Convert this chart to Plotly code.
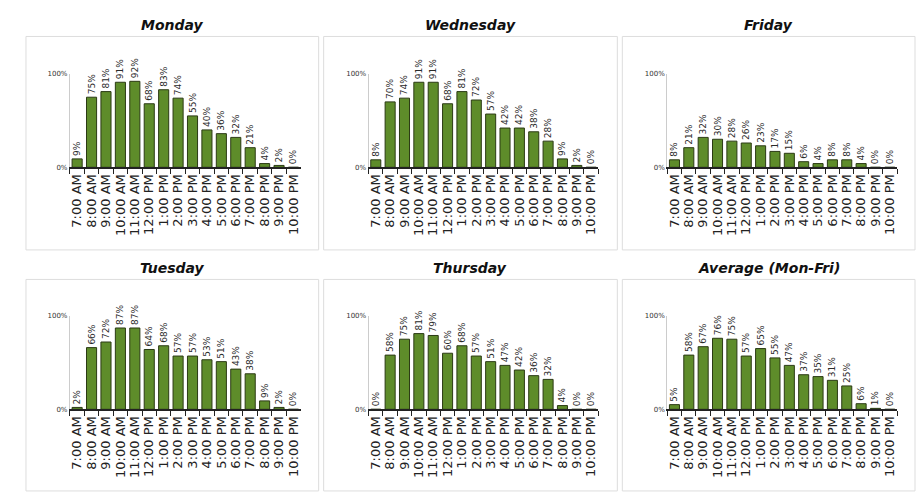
import plotly.graph_objects as go

hours = ["7:00 AM", "8:00 AM", "9:00 AM", "10:00 AM", "11:00 AM", "12:00 PM", "1:00 PM",
         "2:00 PM", "3:00 PM", "4:00 PM", "5:00 PM", "6:00 PM", "7:00 PM", "8:00 PM",
         "9:00 PM", "10:00 PM"]

monday = [9, 75, 81, 91, 92, 68, 83, 74, 55, 40, 36, 32, 21, 4, 2, 0]
wednesday = [8, 70, 74, 91, 91, 68, 81, 72, 57, 42, 42, 38, 28, 9, 2, 0]
friday = [8, 21, 32, 30, 28, 26, 23, 17, 15, 6, 4, 8, 8, 4, 0, 0]
tuesday = [2, 66, 72, 87, 87, 64, 68, 57, 57, 53, 51, 43, 38, 9, 2, 0]
thursday = [0, 58, 75, 81, 79, 60, 68, 57, 51, 47, 42, 36, 32, 4, 0, 0]
average = [5, 58, 67, 76, 75, 57, 65, 55, 47, 37, 35, 31, 25, 6, 1, 0]

panel_titles = ["Monday", "Wednesday", "Friday", "Tuesday", "Thursday", "Average (Mon-Fri)"]
panel_data = [monday, wednesday, friday, tuesday, thursday, average]

W, H = 920, 492
col_px = [(69, 300), (368, 598), (667, 897)]
row_px = [(71, 166), (317, 412)]
box_x = [(25, 318), (323, 617), (622, 915)]
box_y = [(33, 250), (280, 495)]
title_y = [21, 268]

fig = go.Figure()
for i, (name, vals) in enumerate(zip(panel_titles, panel_data)):
    r, c = divmod(i, 3)
    n = i + 1
    xa = "x" if n == 1 else f"x{n}"
    ya = "y" if n == 1 else f"y{n}"
    fig.add_trace(go.Bar(
        x=hours, y=[v / 100 for v in vals],
        text=[f"{v}%" for v in vals],
        textposition="outside", textangle=-90, constraintext="none",
        cliponaxis=False,
        textfont=dict(family="DejaVu Sans", size=9, color="#2a2a2a"),
        marker=dict(color="#5e8c2a", line=dict(color="#2b3a14", width=1)),
        xaxis=xa, yaxis=ya, showlegend=False, hoverinfo="skip",
    ))
    x0, x1 = col_px[c]
    y0, y1 = row_px[r]
    xdom = [x0 / W, x1 / W]
    ydom = [1 - y1 / H, 1 - y0 / H]
    fig.layout[f"xaxis{'' if n == 1 else n}"] = dict(
        domain=xdom, anchor=ya, type="category", range=[-0.5, 15.5],
        tickmode="array", tickvals=hours, ticktext=hours,
        showline=True, linecolor="#222222", linewidth=1.5,
        ticks="outside", tickson="boundaries", ticklen=5, tickcolor="#222222",
        tickangle=-90, tickfont=dict(family="DejaVu Sans", size=13, color="#222222"),
        showgrid=False, fixedrange=True,
    )
    fig.layout[f"yaxis{'' if n == 1 else n}"] = dict(
        domain=ydom, anchor=xa, range=[0, 1], tickvals=[0, 1], ticktext=["0%", "100%"],
        tickfont=dict(family="DejaVu Sans", size=7, color="#333333"),
        showgrid=True, gridcolor="#cccccc", gridwidth=1,
        showline=True, linecolor="#cccccc", zeroline=False, ticks="", fixedrange=True,
    )
    bx0, bx1 = box_x[c]
    by0, by1 = box_y[r]
    fig.add_shape(type="rect", xref="paper", yref="paper",
                  x0=bx0 / W, x1=bx1 / W, y0=1 - by1 / H, y1=1 - by0 / H,
                  line=dict(color="#dddddd", width=1), layer="below")
    fig.add_annotation(text=f"<b><i>{name}</i></b>", xref="paper", yref="paper",
                       x=(bx0 + bx1) / 2 / W, y=1 - title_y[r] / H,
                       xanchor="center", yanchor="middle", showarrow=False,
                       font=dict(family="DejaVu Sans", size=14, color="#111111"))

fig.update_layout(
    width=W, height=H, margin=dict(l=0, r=0, t=0, b=0),
    paper_bgcolor="white", plot_bgcolor="white", bargap=0.3,
)
fig.write_html("out.html")
